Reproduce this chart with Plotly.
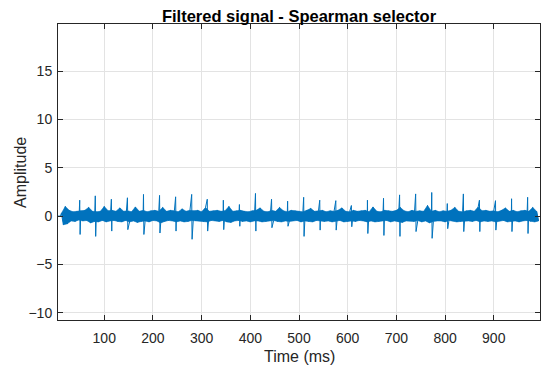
import numpy as np
import plotly.graph_objects as go

# Main spikes (time in ms, positive peak, negative peak)
spike_t = [50, 82, 115, 148, 181, 214, 247, 280, 312, 345, 378, 411, 444, 477, 510,
           543, 576, 608, 641, 674, 707, 740, 773, 805, 838, 871, 904, 937, 970]
spike_up = [1.65, 2.1, 1.75, 1.9, 2.25, 2.15, 2.0, 2.25, 1.75, 1.65, 1.2, 2.35, 1.75, 1.55, 1.95,
            1.65, 1.6, 1.1, 1.65, 1.85, 2.2, 2.3, 2.45, 1.3, 2.3, 1.65, 1.6, 1.8, 1.95]
spike_down = [1.9, 2.1, 1.55, 1.4, 1.9, 1.75, 1.55, 2.4, 1.55, 1.4, 1.05, 1.55, 1.2, 1.05, 2.1,
              1.45, 1.45, 1.1, 1.8, 2.0, 2.1, 1.6, 2.3, 1.3, 1.6, 1.6, 1.45, 1.6, 1.8]

# Background noise band, one value every 4 ms starting at 12 ms
noise_start = 12
noise_step = 4
noise = [
    0.3, -0.9, 1.0, -0.8, 0.6, -0.5, 0.45, -0.55, 0.5, -0.4,
    0.55, -0.5, 0.6, -0.45, 0.9, -0.7, 0.5, -0.55, 0.45, -0.6,
    0.5, -0.45, 1.0, -0.6, 0.55, -0.5, 0.6, -0.45, 0.5, -0.55,
    0.85, -0.6, 0.5, -0.45, 0.55, -0.6, 0.45, -0.5, 0.95, -0.65,
    0.5, -0.55, 0.6, -0.5, 0.45, -0.6, 0.55, -0.45, 0.6, -0.5,
    0.5, -0.7, 0.9, -0.55, 0.5, -0.45, 0.6, -0.5, 0.55, -0.6,
    0.45, -0.5, 0.75, -0.6, 0.5, -0.55, 0.6, -0.45, 0.55, -0.5,
    0.6, -0.5, 0.45, -0.55, 0.9, -0.6, 0.5, -0.45, 0.55, -0.5,
    0.6, -0.55, 0.5, -0.45, 0.55, -0.6, 1.0, -0.65, 0.5, -0.5,
    0.55, -0.45, 0.6, -0.55, 0.5, -0.5, 0.45, -0.6, 0.55, -0.5,
    0.6, -0.5, 0.85, -0.6, 0.5, -0.55, 0.45, -0.5, 0.6, -0.45,
    0.5, -0.55, 0.9, -0.6, 0.55, -0.5, 0.45, -0.55, 0.6, -0.5,
    0.55, -0.45, 0.5, -0.6, 0.45, -0.5, 0.6, -0.55, 0.8, -0.6,
    0.5, -0.45, 0.55, -0.5, 0.6, -0.55, 0.45, -0.5, 0.55, -0.6,
    0.5, -0.5, 0.6, -0.45, 0.85, -0.6, 0.5, -0.55, 0.45, -0.5,
    0.6, -0.55, 0.5, -0.45, 0.55, -0.5, 0.6, -0.6, 0.45, -0.5,
    0.95, -0.6, 0.5, -0.55, 0.45, -0.5, 0.6, -0.45, 0.55, -0.6,
    0.5, -0.5, 0.6, -0.55, 0.9, -0.65, 0.55, -0.5, 0.45, -0.5,
    0.6, -0.55, 0.5, -0.45, 0.55, -0.6, 0.5, -0.5, 1.1, -0.7,
    0.5, -0.55, 0.6, -0.5, 0.45, -0.5, 0.55, -0.6, 0.5, -0.45,
    0.6, -0.5, 0.9, -0.6, 0.5, -0.55, 0.45, -0.5, 0.55, -0.5,
    0.6, -0.55, 0.5, -0.45, 0.95, -0.6, 0.55, -0.5, 0.6, -0.55,
    0.5, -0.5, 0.55, -0.6, 0.45, -0.5, 0.6, -0.45, 0.85, -0.6,
    0.5, -0.55, 0.6, -0.5, 0.45, -0.6, 0.55, -0.5, 0.6, -0.45,
    0.5, -0.55, 0.9, -0.6, 0.5, -0.5,
]

x_ticks = [100, 200, 300, 400, 500, 600, 700, 800, 900]
y_ticks = [-10, -5, 0, 5, 10, 15]

# Assemble the sampled signal
noise_t = [noise_start + i * noise_step for i in range(len(noise))]
pts = [(4.0, 0.0), (10.0, 0.0)]
pts += list(zip(noise_t, noise))
for ts, up, dn in zip(spike_t, spike_up, spike_down):
    pts.append((ts - 0.4, up))
    pts.append((ts + 0.4, -dn))
pts.sort(key=lambda p: p[0])
t = [p[0] for p in pts]
y = [p[1] for p in pts]

# Solid core of the dense noise band (upper samples forward, lower samples back)
up_t = [tt for tt, v in zip(noise_t, noise) if v > 0]
up_v = [v for v in noise if v > 0]
lo_t = [tt for tt, v in zip(noise_t, noise) if v < 0]
lo_v = [v for v in noise if v < 0]
band_x = up_t + lo_t[::-1]
band_y = up_v + lo_v[::-1]

blue = "#0072BD"
fig = go.Figure()
fig.add_trace(go.Scatter(x=band_x, y=band_y, mode="lines", fill="toself",
                         fillcolor=blue, line=dict(color=blue, width=0.6),
                         hoverinfo="skip"))
fig.add_trace(go.Scatter(x=t, y=y, mode="lines",
                         line=dict(color=blue, width=1.0, simplify=False),
                         hoverinfo="skip"))

axis_color = "#262626"
grid_color = "#e3e3e3"
# page body has an 8 px margin, so the figure is 542x362 and margins are offset
fig.update_layout(
    width=542, height=362,
    margin=dict(l=50, r=10, t=16, b=50),
    paper_bgcolor="white", plot_bgcolor="white",
    font=dict(family="Liberation Sans, Arial, sans-serif", color=axis_color, size=14),
    showlegend=False,
    title=dict(text="<b>Filtered signal - Spearman selector</b>",
               font=dict(size=16.5, color="black"),
               x=0.5, xref="paper", xanchor="center",
               y=1 - 8 / 362, yref="container", yanchor="middle", pad=dict(t=0, b=0)),
    annotations=[
        dict(text="Time (ms)", xref="paper", yref="paper", x=0.5, y=-0.124,
             xanchor="center", yanchor="middle", showarrow=False,
             font=dict(size=16, color=axis_color)),
        dict(text="Amplitude", xref="paper", yref="paper", x=-0.079, y=0.5,
             xanchor="center", yanchor="middle", showarrow=False, textangle=-90,
             font=dict(size=16, color=axis_color)),
    ],
)
fig.update_xaxes(range=[5, 995], tickvals=x_ticks, ticks="inside", ticklen=5,
                 tickcolor=axis_color, showline=True, linecolor=axis_color, linewidth=1,
                 mirror="ticks", showgrid=True, gridcolor=grid_color, zeroline=False,
                 tickfont=dict(size=14), automargin=False, ticklabelstandoff=5)
fig.update_yaxes(range=[-10.76, 19.9], tickvals=y_ticks, ticks="inside", ticklen=5,
                 tickcolor=axis_color, showline=True, linecolor=axis_color, linewidth=1,
                 mirror="ticks", showgrid=True, gridcolor=grid_color, zeroline=False,
                 tickfont=dict(size=14), automargin=False, ticklabelstandoff=2)

fig.write_html("out.html")
